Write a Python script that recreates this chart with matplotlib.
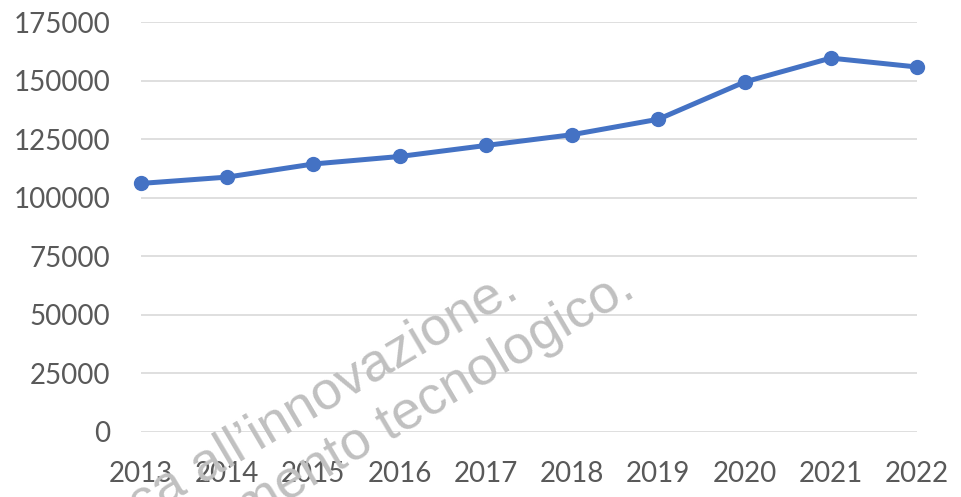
import matplotlib
matplotlib.use("Agg")
import matplotlib.pyplot as plt

# data
years = ["2013", "2014", "2015", "2016", "2017", "2018", "2019", "2020", "2021", "2022"]
values = [106100, 108800, 114400, 117600, 122300, 126900, 133500, 149400, 159600, 155800]
y_ticks = [0, 25000, 50000, 75000, 100000, 125000, 150000, 175000]
watermark_lines = ["ca all\u2019innovazione.", "mento tecnologico."]

plt.rcParams['font.family'] = ['Lato', 'DejaVu Sans']

fig = plt.figure(figsize=(9.61, 4.97), dpi=100)
ax = fig.add_axes([0.1467, 0.1308, 0.8075, 0.8249])

x = list(range(len(years)))
ax.plot(x, values, color='#4472C4', linewidth=3.6, marker='o', markersize=10,
        solid_capstyle='round', zorder=3, clip_on=False)

# axes styling like the spreadsheet chart
ax.set_xlim(0, len(years) - 1)
ax.set_ylim(0, 175000)
ax.set_yticks(y_ticks)
ax.set_yticklabels([str(v) for v in y_ticks])
ax.set_xticks(x)
ax.set_xticklabels(years)
ax.grid(axis='y', color='#d9d9d9', linewidth=1.2)
ax.set_axisbelow(True)
for s in ax.spines.values():
    s.set_visible(False)
ax.tick_params(axis='both', length=0, labelsize=20, labelcolor='#595959')
ax.tick_params(axis='y', pad=22)
ax.tick_params(axis='x', pad=21)

# watermark, partly cut off by the bottom edge
fig.text(521 / 961, 1 - 296 / 497, watermark_lines[0], fontsize=39, color='#c0c0c0',
         family=['Liberation Sans', 'DejaVu Sans'], rotation=30.5, rotation_mode='anchor',
         ha='right', va='baseline', zorder=10)
fig.text(637 / 961, 1 - 295 / 497, watermark_lines[1], fontsize=39, color='#c0c0c0',
         family=['Liberation Sans', 'DejaVu Sans'], rotation=30.5, rotation_mode='anchor',
         ha='right', va='baseline', zorder=10)

fig.savefig("out.png", dpi=100)
